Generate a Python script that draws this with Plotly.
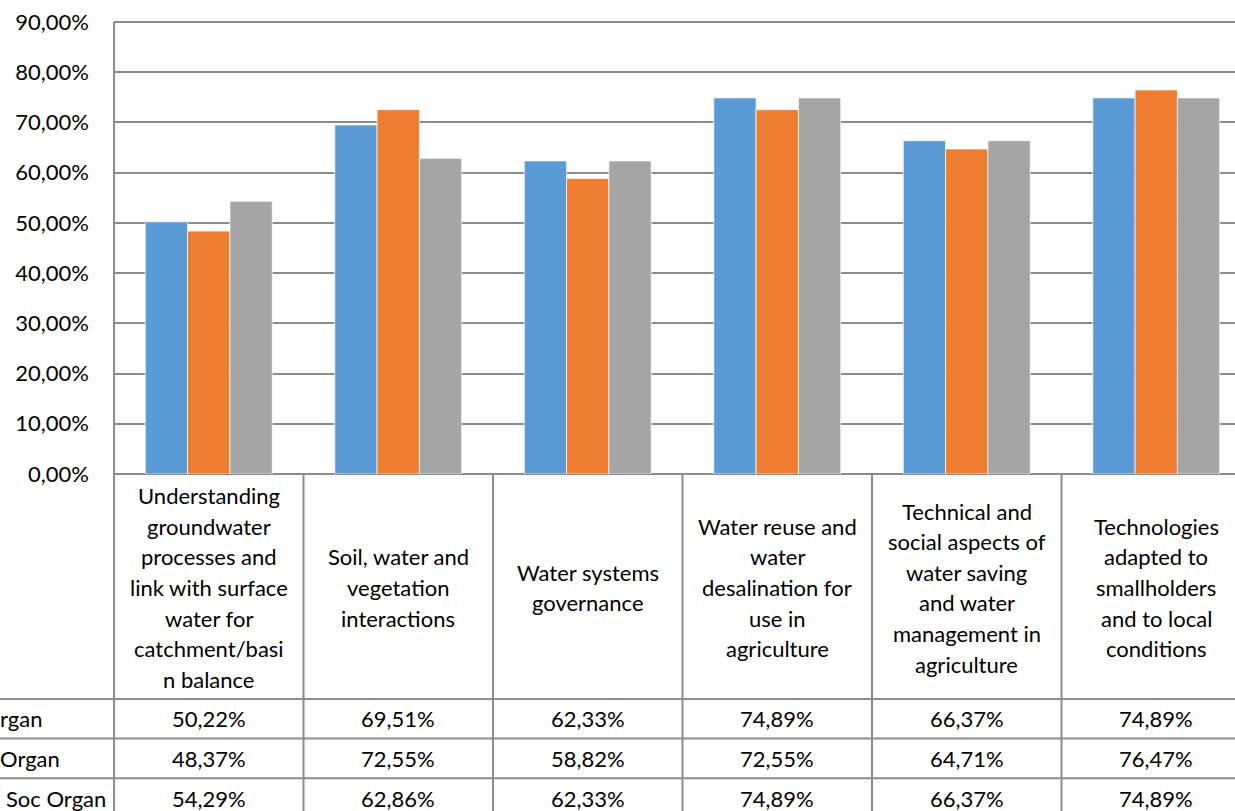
import plotly.graph_objects as go

# Category labels, pre-wrapped into the lines shown in the table header
category_lines = [
    ["Understanding", "groundwater", "processes and", "link with surface",
     "water for", "catchment/basi", "n balance"],
    ["Soil, water and", "vegetation", "interactions"],
    ["Water systems", "governance"],
    ["Water reuse and", "water", "desalination for", "use in", "agriculture"],
    ["Technical and", "social aspects of", "water saving", "and water",
     "management in", "agriculture"],
    ["Technologies", "adapted to", "smallholders", "and to local", "conditions"],
]

# Row headers as they appear at the left edge of the data table
series_names = ["rgan", "Organ", "Soc Organ"]
series_colors = ["#5B9BD5", "#ED7D31", "#A5A5A5"]

series_1 = [0.5022, 0.6951, 0.6233, 0.7489, 0.6637, 0.7489]
series_2 = [0.4837, 0.7255, 0.5882, 0.7255, 0.6471, 0.7647]
series_3 = [0.5429, 0.6286, 0.6233, 0.7489, 0.6637, 0.7489]
series_values = [series_1, series_2, series_3]

y_ticks = [i / 10 for i in range(10)]

# ---- layout geometry (pixels) ----
W, H = 1235, 811
PLOT_L, PLOT_T, PLOT_B = 114, 22, 474
CAT_W = 189.5
FONT = "Lato"
FS = 22
GRID = "#8c8c8c"

n_cat = len(category_lines)
x_idx = list(range(n_cat))
x_right = -0.5 + (W - PLOT_L) / CAT_W
plot_h = PLOT_B - PLOT_T
plot_w = W - PLOT_L


def py(ypx):
    """pixel row -> paper y"""
    return (PLOT_B - ypx) / plot_h


def px(xpx):
    """pixel column -> paper x"""
    return (xpx - PLOT_L) / plot_w


def pct(v):
    return f"{v * 100:.2f}%".replace(".", ",")


fig = go.Figure()
for name, vals, col in zip(series_names, series_values, series_colors):
    fig.add_bar(
        x=x_idx, y=vals, name=name,
        marker=dict(color=col, line=dict(color="rgba(255,255,255,0.7)", width=1)),
    )

shapes = []
annotations = []

# Table header area and data rows
HEADER_BOTTOM = 699
ROW_H = 39.6
row_lines = [HEADER_BOTTOM + k * ROW_H for k in range(3)]
TABLE_BOTTOM = H + 10

# horizontal table rules
for yl in row_lines:
    shapes.append(dict(type="line", xref="paper", yref="paper",
                       x0=px(0) - 0.01, x1=1.01, y0=py(yl), y1=py(yl),
                       line=dict(color=GRID, width=2)))

# left vertical rule (value axis continued down through the table)
shapes.append(dict(type="line", xref="paper", yref="paper",
                   x0=0, x1=0, y0=1, y1=py(TABLE_BOTTOM),
                   line=dict(color=GRID, width=2)))

# vertical category separators
for b in range(n_cat - 1):
    shapes.append(dict(type="line", xref="x", yref="paper",
                       x0=b + 0.5, x1=b + 0.5, y0=0, y1=py(TABLE_BOTTOM),
                       line=dict(color=GRID, width=2)))

# category header text, one annotation per wrapped line
LINE_STEP = 30.6
header_mid = 587.5
for i, lines in enumerate(category_lines):
    n = len(lines)
    for k, t in enumerate(lines):
        yc = header_mid + (k - (n - 1) / 2) * LINE_STEP
        annotations.append(dict(xref="x", yref="paper", x=i, y=py(yc),
                                text=t, showarrow=False, xanchor="center",
                                yanchor="middle",
                                font=dict(family=FONT, size=FS, color="#000")))

# data table values
for r, vals in enumerate(series_values):
    yc = row_lines[r] + ROW_H / 2
    for i, v in enumerate(vals):
        annotations.append(dict(xref="x", yref="paper", x=i, y=py(yc),
                                text=pct(v), showarrow=False, xanchor="center",
                                yanchor="middle",
                                font=dict(family=FONT, size=FS, color="#000")))

# series names in the row-header column, starting at the left page edge
name_left_px = [-1, -1, 5]
for r, nm in enumerate(series_names):
    yc = row_lines[r] + ROW_H / 2
    annotations.append(dict(xref="paper", yref="paper", x=px(name_left_px[r]),
                            y=py(yc), text=nm, showarrow=False,
                            xanchor="left", yanchor="middle", borderpad=0,
                            font=dict(family=FONT, size=FS, color="#000")))

fig.update_layout(
    width=W, height=H,
    margin=dict(l=PLOT_L, r=0, t=PLOT_T, b=H - PLOT_B, pad=0),
    paper_bgcolor="white", plot_bgcolor="white",
    barmode="group", bargap=0.33, bargroupgap=0,
    showlegend=False,
    font=dict(family=FONT, size=FS, color="#000"),
    xaxis=dict(range=[-0.5, x_right], showticklabels=False, showgrid=False,
               zeroline=False, showline=False, fixedrange=True),
    yaxis=dict(range=[0, 0.9], tickvals=y_ticks,
               ticktext=[pct(v) for v in y_ticks],
               showgrid=True, gridcolor=GRID, gridwidth=2,
               zeroline=True, zerolinecolor=GRID, zerolinewidth=2,
               showline=False, ticks="", ticklabelstandoff=24,
               tickfont=dict(family=FONT, size=FS, color="#000")),
    shapes=shapes,
    annotations=annotations,
)
# top rule at 90 %
fig.add_shape(type="line", xref="paper", yref="paper", x0=0, x1=1, y0=1, y1=1,
              line=dict(color=GRID, width=2))

fig.write_html("out.html")
